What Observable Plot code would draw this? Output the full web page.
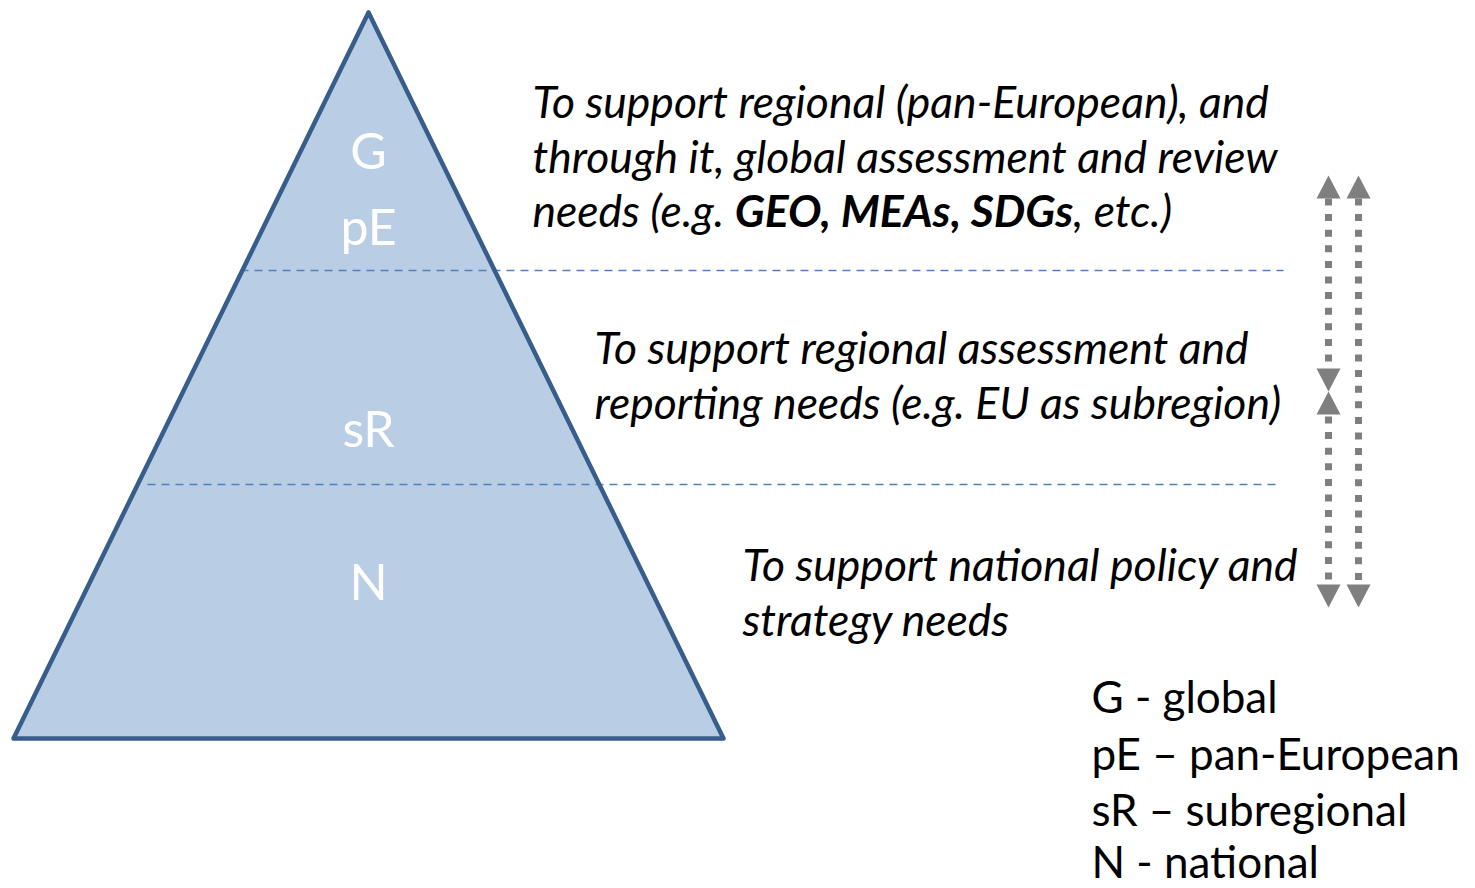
<!DOCTYPE html>
<html>
<head>
<meta charset="utf-8">
<script src="https://cdn.jsdelivr.net/npm/d3@7"></script>
<script src="https://cdn.jsdelivr.net/npm/@observablehq/plot@0.6"></script>
<style>
  html, body { margin: 0; padding: 0; background: #fff; }
  #chart svg { display: block; }
</style>
</head>
<body>
<div id="chart"></div>
<script>
// ---- Data ----
const pyramid = [
  {x: 368, y: 12},
  {x: 723, y: 738},
  {x: 13, y: 738}
];
const levelLines = [
  {y: 270, x1: 240, x2: 1283},
  {y: 484, x1: 147, x2: 1278}
];
const levelLabels = [
  {label: "G", x: 368, y: 152},
  {label: "pE", x: 368, y: 228},
  {label: "sR", x: 368, y: 430},
  {label: "N", x: 368, y: 583}
];
const purposeLines = [
  {text: "To support regional (pan-European), and", x: 532, y: 103},
  {text: "through it, global assessment and review", x: 532, y: 158},
  {text: "needs (e.g. GEO, MEAs, SDGs, etc.)", x: 532, y: 212},
  {text: "To support regional assessment and", x: 594, y: 349},
  {text: "reporting needs (e.g. EU as subregion)", x: 594, y: 404},
  {text: "To support national policy and", x: 742, y: 566},
  {text: "strategy needs", x: 742, y: 621}
];
const boldPart = "GEO, MEAs, SDGs";
const legendLines = [
  {text: "G - global", x: 1091, y: 698},
  {text: "pE \u2013 pan-European", x: 1091, y: 755},
  {text: "sR \u2013 subregional", x: 1091, y: 811},
  {text: "N - national", x: 1091, y: 863}
];
const arrowShafts = [
  {x: 1328, y1: 198, y2: 368},
  {x: 1328, y1: 416, y2: 585},
  {x: 1358, y1: 198, y2: 585}
];
const arrowHeads = [
  {id: "a", x: 1328, y: 175, dir: -1},
  {id: "b", x: 1358, y: 175, dir: -1},
  {id: "c", x: 1328, y: 391, dir: 1},
  {id: "d", x: 1328, y: 391, dir: -1},
  {id: "e", x: 1328, y: 607, dir: 1},
  {id: "f", x: 1358, y: 607, dir: 1}
];
const headHalfWidth = 12, headLength = 23;

// ---- Derived tables ----
const pyramidPath = [...pyramid, pyramid[0]];
const headPolys = arrowHeads.flatMap(h => [
  {id: h.id, x: h.x, y: h.y},
  {id: h.id, x: h.x - headHalfWidth, y: h.y - h.dir * headLength},
  {id: h.id, x: h.x + headHalfWidth, y: h.y - h.dir * headLength},
  {id: h.id, x: h.x, y: h.y}
]);

const W = 1475, H = 888;
const chart = Plot.plot({
  width: W,
  height: H,
  margin: 0,
  x: {domain: [0, W], range: [0, W], axis: null},
  y: {domain: [0, H], range: [0, H], axis: null},
  style: {background: "#fff"},
  marks: [
    Plot.line(pyramidPath, {x: "x", y: "y", fill: "#B9CDE5", stroke: "none", curve: "linear"}),
    Plot.link(levelLines, {x1: "x1", x2: "x2", y1: "y", y2: "y", stroke: "#4F81BD", strokeWidth: 1.5, strokeDasharray: "8,6"}),
    Plot.line(pyramidPath, {x: "x", y: "y", stroke: "#385D8A", strokeWidth: 4.5, strokeLinejoin: "round", strokeLinecap: "round"}),
    Plot.text(levelLabels, {x: "x", y: "y", text: "label", fill: "#fff", fontSize: 50, fontFamily: "Lato", textAnchor: "middle"}),
    Plot.link(arrowShafts, {x1: "x", x2: "x", y1: "y1", y2: "y2", stroke: "#7F7F7F", strokeWidth: 7, strokeDasharray: "7,8.6"}),
    Plot.line(headPolys, {x: "x", y: "y", z: "id", fill: "#7F7F7F", stroke: "none"}),
    Plot.text(purposeLines, {x: "x", y: "y", text: "text", textAnchor: "start", fill: "#000", fontSize: 44.5, fontFamily: "Lato", fontStyle: "italic"}),
    Plot.text(legendLines, {x: "x", y: "y", text: "text", textAnchor: "start", fill: "#000", fontSize: 44, fontFamily: "Lato"})
  ]
});

// Bold the example names inside the third line
d3.select(chart).selectAll("text").each(function() {
  const t = this.textContent;
  const i = t.indexOf(boldPart);
  if (i < 0) return;
  const sel = d3.select(this);
  sel.text(null);
  sel.append("tspan").text(t.slice(0, i));
  sel.append("tspan").attr("font-weight", "bold").text(boldPart);
  sel.append("tspan").text(t.slice(i + boldPart.length));
});

document.getElementById("chart").append(chart);
</script>
</body>
</html>
